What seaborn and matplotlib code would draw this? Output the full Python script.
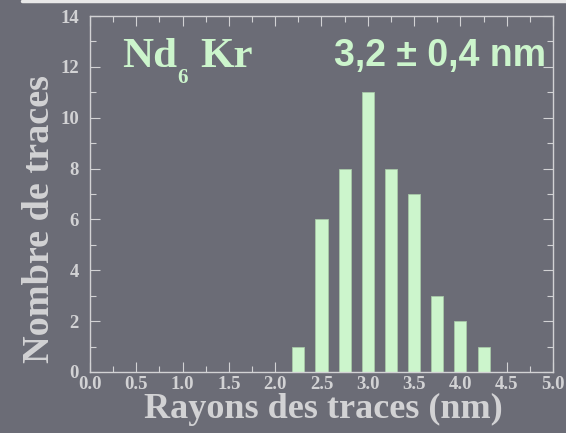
import matplotlib
matplotlib.use("Agg")
import matplotlib.pyplot as plt
import seaborn as sns
import pandas as pd
from matplotlib.lines import Line2D

radii = [2.25, 2.5, 2.75, 3.0, 3.25, 3.5, 3.75, 4.0, 4.25]
counts = [1, 6, 8, 11, 8, 7, 3, 2, 1]
xticks = [0.0, 0.5, 1.0, 1.5, 2.0, 2.5, 3.0, 3.5, 4.0, 4.5, 5.0]
yticks = [0, 2, 4, 6, 8, 10, 12, 14]

bg = "#6b6c76"
fg = "#d2d2d4"
green = "#ccf5cc"

sns.set_theme(style="ticks")
plt.rcParams["font.family"] = ["Liberation Serif", "DejaVu Serif"]

df = pd.DataFrame({"r": radii, "n": counts})

fig = plt.figure(figsize=(5.66, 4.33), dpi=100, facecolor=bg)
ax = fig.add_axes([0.159, 0.141, 0.818, 0.822])
ax.set_facecolor(bg)

sns.barplot(data=df, x="r", y="n", native_scale=True, width=0.52,
            color=green, saturation=1, edgecolor="#a8c8a8", linewidth=0.6, ax=ax)

ax.set_xlim(0, 5)
ax.set_ylim(0, 14)
ax.set_xticks(xticks)
ax.set_xticklabels([f"{t:.1f}" for t in xticks])
ax.set_xticks([x / 4 for x in range(21)], minor=True)
ax.set_yticks(yticks)
ax.set_yticks(range(15), minor=True)

for s in ax.spines.values():
    s.set_color(fg)
    s.set_linewidth(1.0)

ax.tick_params(which="both", direction="in", top=True, right=True, colors=fg,
               labelcolor=fg, width=0.8)
ax.tick_params(which="major", length=7)
ax.tick_params(which="minor", length=4)
ax.tick_params(axis="x", which="major", pad=3)
ax.tick_params(axis="y", which="major", pad=8)
for lab in ax.get_xticklabels() + ax.get_yticklabels():
    lab.set_fontweight("bold")
    lab.set_fontsize(13.5)

ax.set_xlabel("Rayons des traces (nm)", fontsize=26, fontweight="bold", color=fg)
ax.xaxis.set_label_coords(0.505, -0.058)
ax.set_ylabel("Nombre de traces", fontsize=27.5, fontweight="bold", color=fg)
ax.yaxis.set_label_coords(-0.072, 0.43)

serif = ["Liberation Serif"]
ax.text(0.345, 11.99, "Nd", fontsize=31, fontweight="bold", color=green,
        ha="left", va="baseline", family=serif)
ax.text(0.94, 11.36, "6", fontsize=15, fontweight="bold", color=green,
        ha="left", va="baseline", family=serif)
ax.text(1.19, 11.99, "Kr", fontsize=31, fontweight="bold", color=green,
        ha="left", va="baseline", family=serif)
ax.text(4.93, 12.05, "3,2 ± 0,4 nm", fontsize=27, fontweight="bold", color=green,
        ha="right", va="baseline", family=["Liberation Sans Narrow", "Liberation Sans", "DejaVu Sans"])

fig.add_artist(Line2D([22 / 566, 1], [0.997, 0.997], color="#e8e8e8", linewidth=2.5,
                      transform=fig.transFigure))

fig.savefig("out.png", dpi=100, facecolor=bg)
